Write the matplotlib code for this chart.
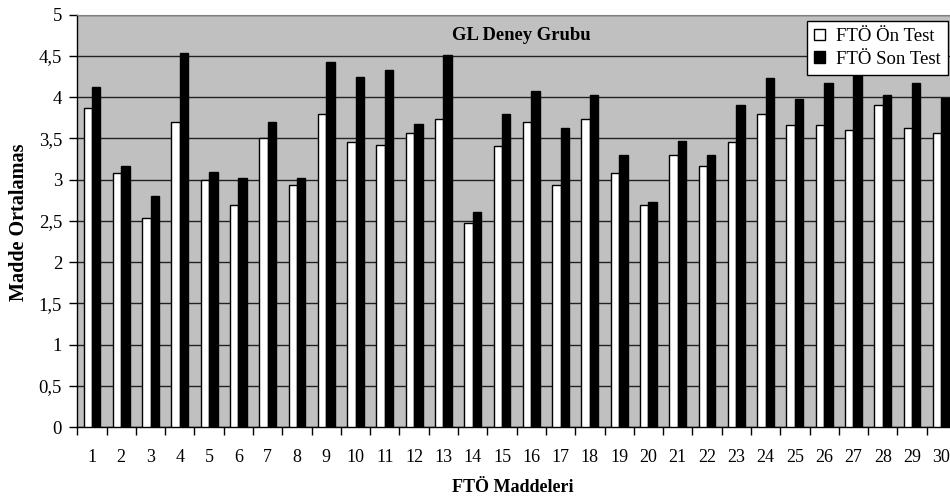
import numpy as np
import matplotlib
matplotlib.use('Agg')
from matplotlib import pyplot as plt
from matplotlib.ticker import MultipleLocator, FuncFormatter

items = list(range(1, 31))
on_test = [3.87, 3.08, 2.53, 3.70, 3.00, 2.69, 3.50, 2.93, 3.79, 3.46,
           3.42, 3.57, 3.73, 2.47, 3.41, 3.70, 2.93, 3.73, 3.08, 2.69,
           3.30, 3.17, 3.46, 3.79, 3.66, 3.66, 3.60, 3.90, 3.63, 3.57]
son_test = [4.12, 3.17, 2.80, 4.53, 3.09, 3.02, 3.70, 3.02, 4.43, 4.24,
            4.33, 3.67, 4.51, 2.61, 3.80, 4.07, 3.63, 4.03, 3.30, 2.73,
            3.47, 3.30, 3.91, 4.23, 3.98, 4.17, 4.35, 4.03, 4.17, 3.99]
labels = ['FTÖ Ön Test', 'FTÖ Son Test']

plt.rcParams['font.family'] = ['Liberation Serif', 'DejaVu Serif']


def main():
    fig = plt.figure(figsize=(9.5, 5.04), dpi=100)
    ax = fig.add_axes([77.3 / 950, 1 - 427 / 504, (956 - 77.3) / 950, (427 - 14.7) / 504])
    ax.set_facecolor('#C0C0C0')

    x = np.array(items)
    w = 0.287
    ax.bar(x - w / 2, on_test, w, color='white', edgecolor='black', linewidth=1.0,
           label=labels[0], zorder=3)
    ax.bar(x + w / 2, son_test, w, color='black', edgecolor='black', linewidth=1.0,
           label=labels[1], zorder=3)

    ax.set_xlim(0.5, 30.5)
    ax.set_ylim(0, 5)
    ax.yaxis.set_major_locator(MultipleLocator(0.5))
    ax.yaxis.set_major_formatter(FuncFormatter(lambda v, p: ('%g' % v).replace('.', ',')))
    ax.grid(axis='y', color='#222222', linewidth=1.0, zorder=1)
    ax.set_axisbelow(True)

    # ticks between groups, labels at group centres
    ax.set_xticks(np.arange(0.5, 31, 1))
    ax.set_xticklabels([])
    ax.set_xticks(x, minor=True)
    ax.set_xticklabels([str(i) for i in items], minor=True)
    ax.tick_params(axis='x', which='major', length=6, width=1, color='black')
    ax.tick_params(axis='x', which='minor', length=0, pad=16, labelsize=13)
    ax.tick_params(axis='y', length=6, width=1, pad=5, labelsize=13.5)

    for s in ['top', 'right']:
        ax.spines[s].set_color('#808080')
    for s in ['left', 'bottom']:
        ax.spines[s].set_color('black')
        ax.spines[s].set_linewidth(1.0)

    fig.text(19 / 950, 1 - 222 / 504, 'Madde Ortalamas', fontsize=14.5, fontweight='bold',
             rotation=90, ha='center', va='center')
    fig.text(513 / 950, 1 - 487 / 504, 'FTÖ Maddeleri', fontsize=13, fontweight='bold',
             ha='center', va='center')
    fig.text(521 / 950, 1 - 35 / 504, 'GL Deney Grubu', fontsize=13.4, fontweight='bold',
             ha='center', va='center')

    leg = ax.legend(loc='upper right', bbox_to_anchor=(948 / 950, 1 - 21 / 504),
                    bbox_transform=fig.transFigure, fancybox=False, framealpha=1,
                    edgecolor='black', fontsize=13.5, handlelength=0.6, handleheight=0.6,
                    handletextpad=0.6, borderpad=0.38, labelspacing=0.3, borderaxespad=0)
    leg.get_frame().set_linewidth(1.0)
    leg.set_zorder(5)

    fig.savefig('out.png', dpi=100)


if __name__ == '__main__':
    main()
